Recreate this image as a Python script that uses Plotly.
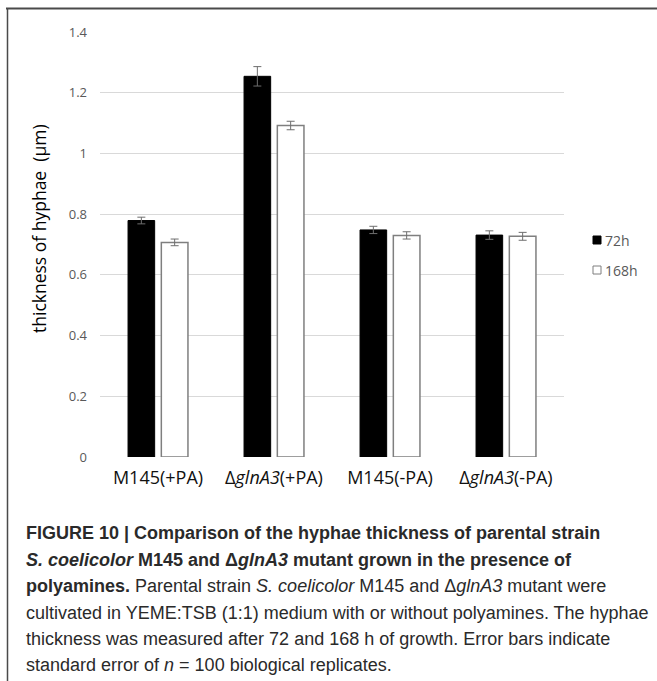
import plotly.graph_objects as go

# ---------------- data ----------------
categories = ["M145(+PA)", "ΔglnA3(+PA)", "M145(-PA)", "ΔglnA3(-PA)"]
tick_labels = ["M145(+PA)", "Δ<i>glnA3</i>(+PA)", "M145(-PA)", "Δ<i>glnA3</i>(-PA)"]
series_names = ["72h", "168h"]
values_72h = [0.779, 1.254, 0.748, 0.731]
errors_72h = [0.011, 0.032, 0.012, 0.014]
values_168h = [0.707, 1.092, 0.730, 0.727]
errors_168h = [0.011, 0.014, 0.012, 0.013]
y_ticks = [0, 0.2, 0.4, 0.6, 0.8, 1.0, 1.2, 1.4]
y_tick_text = ["0", "0.2", "0.4", "0.6", "0.8", "1", "1.2", "1.4"]

caption_lines = [
    "<b>FIGURE 10 | Comparison of the hyphae thickness of parental strain</b>",
    "<b><i>S. coelicolor</i> M145 and Δ<i>glnA3</i> mutant grown in the presence of</b>",
    "<b>polyamines.</b> Parental strain <i>S. coelicolor</i> M145 and Δ<i>glnA3</i> mutant were",
    "cultivated in YEME:TSB (1:1) medium with or without polyamines. The hyphae",
    "thickness was measured after 72 and 168 h of growth. Error bars indicate",
    "standard error of <i>n</i> = 100 biological replicates.",
]

# ---------------- layout geometry ----------------
W, H = 657, 681
ML, MR, MT, MB = 100, 93, 32, 224
PW = W - ML - MR
PH = H - MT - MB


def px(x):
    return (x - ML) / PW


def py(y):
    return (H - MB - y) / PH


fig = go.Figure()
fig.add_trace(go.Bar(
    x=categories, y=values_72h, name=series_names[0],
    marker=dict(color="#000000", line=dict(color="#000000", width=1)),
    error_y=dict(type="data", array=errors_72h, color="#6e6e6e", thickness=1, width=4),
    showlegend=False,
))
fig.add_trace(go.Bar(
    x=categories, y=values_168h, name=series_names[1],
    marker=dict(color="#ffffff", line=dict(color="#7f7f7f", width=1.5)),
    error_y=dict(type="data", array=errors_168h, color="#6e6e6e", thickness=1, width=4),
    showlegend=False,
))

shapes = [
    # outer frame (top and left)
    dict(type="line", xref="paper", yref="paper", x0=px(6), x1=px(657), y0=py(8.5), y1=py(8.5),
         line=dict(color="#4a4a4a", width=2)),
    dict(type="line", xref="paper", yref="paper", x0=px(7.5), x1=px(7.5), y0=py(8), y1=py(681),
         line=dict(color="#4a4a4a", width=1.5)),
    # legend swatches
    dict(type="rect", xref="paper", yref="paper", x0=px(593), x1=px(601), y0=py(244), y1=py(236),
         fillcolor="#000000", line=dict(color="#000000", width=1)),
    dict(type="rect", xref="paper", yref="paper", x0=px(593), x1=px(601), y0=py(274), y1=py(266),
         fillcolor="#ffffff", line=dict(color="#7f7f7f", width=1)),
]

annotations = [
    dict(text=series_names[0], x=px(603), y=py(240), xref="paper", yref="paper",
         xanchor="left", yanchor="middle", showarrow=False,
         font=dict(family="Open Sans", size=14, color="#595959")),
    dict(text=series_names[1], x=px(603), y=py(270), xref="paper", yref="paper",
         xanchor="left", yanchor="middle", showarrow=False,
         font=dict(family="Open Sans", size=14, color="#595959")),
    dict(text="thickness of hyphae\u00a0 (µm)", x=px(39), y=py(229), xref="paper", yref="paper",
         xanchor="center", yanchor="middle", textangle=-90, showarrow=False,
         font=dict(family="Open Sans", size=17.5, color="#000000")),
]

line_y = [533, 559.5, 586, 612.5, 639, 665]
for txt, ly in zip(caption_lines, line_y):
    annotations.append(dict(
        text=txt, x=px(24), y=py(ly), xref="paper", yref="paper",
        xanchor="left", yanchor="middle", showarrow=False, align="left",
        font=dict(family="Liberation Sans, Arial, sans-serif", size=18, color="#2a2a2a"),
    ))

fig.update_layout(
    width=W, height=H,
    margin=dict(l=ML, r=MR, t=MT, b=MB, pad=0),
    paper_bgcolor="#ffffff", plot_bgcolor="#ffffff",
    barmode="group", bargap=0.426, bargroupgap=0.2,
    showlegend=False,
    shapes=shapes, annotations=annotations,
    xaxis=dict(
        tickmode="array", tickvals=categories, ticktext=tick_labels,
        showgrid=False, zeroline=False, showline=False, ticks="",
        tickfont=dict(family="Open Sans", size=18, color="#111111"),
        ticklabelstandoff=8,
    ),
    yaxis=dict(
        range=[0, 1.4], tickmode="array", tickvals=y_ticks, ticktext=y_tick_text,
        showgrid=True, gridcolor="#d9d9d9", gridwidth=1,
        zeroline=False, showline=False, ticks="",
        tickfont=dict(family="Open Sans", size=13, color="#595959"),
        ticklabelstandoff=12,
    ),
)

fig.write_html("out.html", config={"displayModeBar": False},
               post_script="document.body.style.margin='0px';document.body.style.overflow='hidden';")
